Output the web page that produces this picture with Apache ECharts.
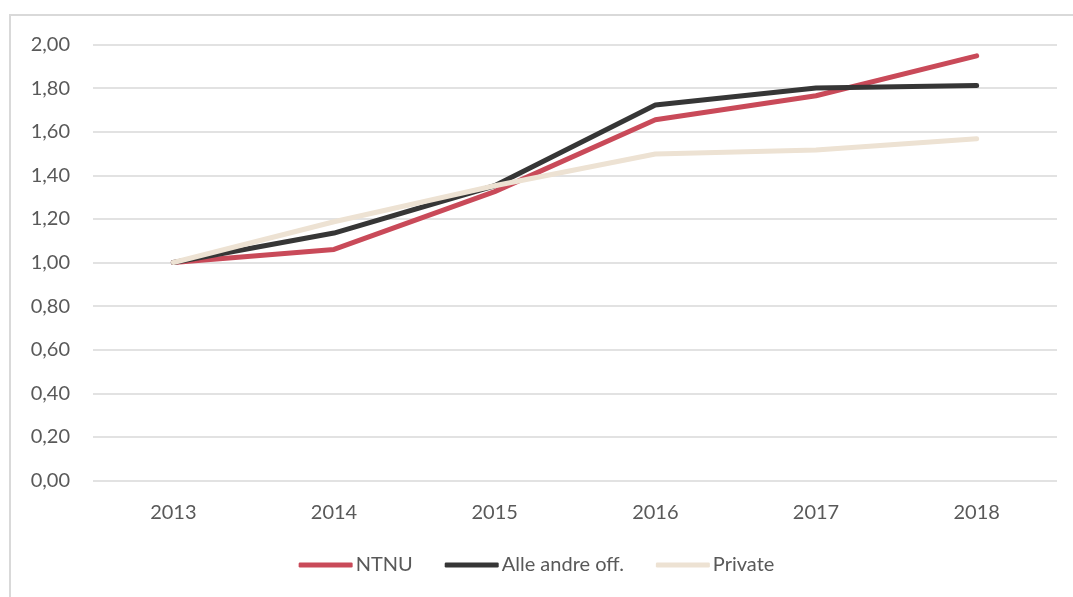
<!DOCTYPE html>
<html>
<head>
<meta charset="utf-8">
<script src="https://cdn.jsdelivr.net/npm/echarts@6/dist/echarts.min.js"></script>
<style>html,body{margin:0;padding:0;background:#fff;}#c{width:1073px;height:597px;}</style>
</head>
<body>
<div id="c"></div>
<script>
var categories = ['2013', '2014', '2015', '2016', '2017', '2018'];
var ntnu = [1.00, 1.06, 1.325, 1.655, 1.765, 1.948];
var alleAndre = [1.00, 1.135, 1.352, 1.722, 1.800, 1.812];
var privat = [1.00, 1.187, 1.352, 1.498, 1.516, 1.568];
var seriesNames = ['NTNU', 'Alle andre off.', 'Private'];
var colors = ['#C94A59', '#363636', '#EDE2D3'];

var chart = echarts.init(document.getElementById('c'), null, {renderer: 'canvas'});
var font = 'Lato, "Open Sans", sans-serif';
function mk(name, data, color) {
  return {
    name: name, type: 'line', data: data, symbol: 'none', smooth: false,
    lineStyle: {color: color, width: 5, cap: 'round', join: 'round'},
    itemStyle: {color: color},
    emphasis: {disabled: true}
  };
}
chart.setOption({
  animation: false,
  color: colors,
  graphic: [{
    type: 'rect', shape: {x: 10, y: 15, width: 1200, height: 800},
    style: {fill: 'none', stroke: '#d9d9d9', lineWidth: 2}, silent: true, z: -1
  }],
  grid: {left: 93, right: 16, top: 44.5, bottom: 116.5, containLabel: false},
  legend: {
    data: seriesNames.map(function (n) { return {name: n, icon: 'roundRect'}; }),
    bottom: 17, left: 'center', itemWidth: 54, itemHeight: 5, itemGap: 32,
    textStyle: {color: '#595959', fontSize: 20, fontFamily: font, padding: [0,0,0,-2]}
  },
  xAxis: {
    type: 'category', data: categories, boundaryGap: true,
    axisLine: {show: false}, axisTick: {show: false},
    axisLabel: {color: '#595959', fontSize: 20, fontFamily: font, margin: 22}
  },
  yAxis: {
    type: 'value', min: 0, max: 2, interval: 0.2,
    axisLine: {show: false}, axisTick: {show: false},
    splitLine: {lineStyle: {color: '#d9d9d9', width: 1.5}},
    axisLabel: {color: '#595959', fontSize: 20, fontFamily: font, margin: 23,
      formatter: function (v) { return v.toFixed(2).replace('.', ','); }}
  },
  series: [mk(seriesNames[0], ntnu, colors[0]), mk(seriesNames[1], alleAndre, colors[1]), mk(seriesNames[2], privat, colors[2])]
});
</script>
</body>
</html>
